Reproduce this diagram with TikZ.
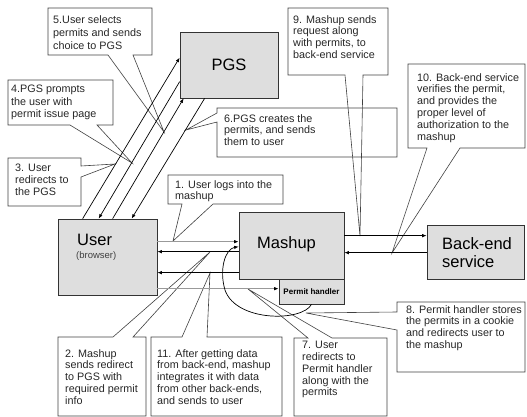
\documentclass[tikz,border=0pt]{standalone}
\usepackage{fontspec}
\setmainfont{Liberation Sans}
\usetikzlibrary{arrows.meta,calc}
\begin{document}
\begin{tikzpicture}[x=1pt,y=-1pt,
  box/.style={draw=black!80, fill=black!13, line width=0.7pt, inner sep=0pt},
  callout/.style={draw=black!75, line width=0.6pt, line join=miter},
  ctext/.style={anchor=north west, align=left, inner sep=0pt, font=\fontsize{10.8}{11.8}\selectfont, text=black!85},
  conn/.style={draw=black, line width=0.7pt, -{Latex[length=4.5pt,width=3.5pt]}},
  gconn/.style={draw=black!40, line width=1.3pt, -{Latex[length=4.5pt,width=3.5pt,color=black]}},
  big/.style={font=\fontsize{16.5}{18}\selectfont, inner sep=0pt}
]
\useasboundingbox (0,0) rectangle (527,417);

% ---------- callouts ----------
\draw[callout] (48,8) -- (152,8) -- (152,55) -- (133,55) -- (164,132) -- (108,55) -- (48,55) -- cycle;
\node[ctext, font=\fontsize{10.8}{13}\selectfont] (t5) at (53,15) {5.User selects\\permits and sends\\choice to PGS};

\draw[callout] (8,80) -- (113,80) -- (113,125) -- (97,125) -- (132,163) -- (70,125) -- (8,125) -- cycle;
\node[ctext, font=\fontsize{10.8}{12.5}\selectfont] (t4) at (11,85) {4.PGS prompts\\the user with\\permit issue page};

\draw[callout] (8,158) -- (81,158) -- (81,166) -- (115,164) -- (81,177) -- (81,206) -- (8,206) -- cycle;
\node[ctext] (t3) at (15,164) {3. User\\redirects to\\the PGS};

\draw[callout] (217,108) -- (397,108) -- (397,157) -- (217,157) -- (217,122) -- (186,130) -- (217,113) -- cycle;
\node[ctext] (t6) at (224,114) {6.PGS creates the\\permits, and sends\\them to user};

\draw[callout] (168,175) -- (283,175) -- (283,204) -- (213,204) -- (173,241) -- (182,204) -- (168,204) -- cycle;
\node[ctext] (t1) at (175,180) {1. User logs into the\\mashup};

\draw[callout] (288,8) -- (388,8) -- (388,75) -- (363,75) -- (360,236) -- (345,75) -- (288,75) -- cycle;
\node[ctext] (t9) at (293,15) {9. Mashup sends\\request along\\with permits, to\\back-end service};

\draw[callout] (408,64) -- (525,64) -- (525,148) -- (460,148) -- (392,253) -- (427,148) -- (408,148) -- cycle;
\node[ctext] (t10) at (417,73) {10. Back-end service\\verifies the permit,\\and provides the\\proper level of\\authorization to the\\mashup};

\draw[callout] (58,337) -- (113,337) -- (210,252) -- (133,337) -- (146,337) -- (146,416) -- (58,416) -- cycle;
\node[ctext] (t2) at (65,349) {2. Mashup\\sends redirect\\to PGS with\\required permit\\info};

\draw[callout] (151,337) -- (182,337) -- (210,273) -- (207,337) -- (282,337) -- (282,416) -- (151,416) -- cycle;
\node[ctext] (t11) at (157,349) {11. After getting data\\from back-end, mashup\\integrates it with data\\from other back-ends,\\and sends to user};

\draw[callout] (294,338) -- (308,338) -- (248,289) -- (332,338) -- (387,338) -- (387,416) -- (294,416) -- cycle;
\node[ctext] (t7) at (302,341) {7. User\\redirects to\\Permit handler\\along with the\\permits};

\draw[callout] (397,302) -- (525,302) -- (525,372) -- (397,372) -- (397,330) -- (306,313) -- (397,312) -- cycle;
\node[ctext] (t8) at (406,305) {8. Permit handler stores\\the permits in a cookie\\and redirects user to\\the mashup};

% ---------- main boxes ----------
\node[box, big, minimum width=98pt, minimum height=66pt] (pgs) at (229,65) {PGS};

\node[box, minimum width=99pt, minimum height=76pt] (user) at (107.5,257) {};
\node[big, anchor=base west] (userlbl) at (77,245) {User};
\node[anchor=base west, inner sep=0pt, font=\fontsize{9.5}{11}\selectfont, text=black!75] (browser) at (76,258) {(browser)};

\node[box, minimum width=105pt, minimum height=67pt] (mashup) at (291.5,245.5) {};
\node[big, anchor=base west] (mashlbl) at (257,248) {Mashup};

\node[box, minimum width=65pt, minimum height=25pt, font=\fontsize{8}{9}\selectfont\bfseries] (ph) at (311.5,291.5) {Permit handler};

\node[box, minimum width=97pt, minimum height=54pt] (backend) at (475.5,252) {};
\node[big, align=left] (belbl) at (477,253) {Back-end\\service};

% ---------- connectors ----------
\draw[conn] ($(user.north west)+(25,0)$) -- ($(pgs.north west)+(0,26)$);
\draw[conn] ($(pgs.north west)+(0,50)$) -- ($(user.north west)+(41,0)$);
\draw[conn] ($(user.north west)+(55,0)$) -- ($(pgs.south west)+(4,0)$);
\draw[conn] ($(pgs.south west)+(25,0)$) -- ($(user.north west)+(74,0)$);

\draw[gconn] ($(user.north east)+(0,23)$) -- ($(mashup.north west)+(0,30)$);
\draw[conn] ($(mashup.north west)+(0,40)$) -- ($(user.north east)+(0,33)$);
\draw[conn] ($(mashup.north west)+(0,61)$) -- ($(user.north east)+(0,54)$);
\draw[gconn] ($(user.north east)+(0,70)$) -- ($(ph.north west)+(0,10)$);

\draw[conn] ($(mashup.north east)+(0,24)$) -- ($(backend.north west)+(0,11)$);
\draw[conn] ($(backend.north west)+(0,28)$) -- ($(mashup.north east)+(0,41)$);

\draw[conn] (ph.south) .. controls (302,322) and (236,322) .. (225,290)
  .. controls (219,270) and (225,249) .. ($(mashup.north west)+(0,35)$);
\end{tikzpicture}
\end{document}
